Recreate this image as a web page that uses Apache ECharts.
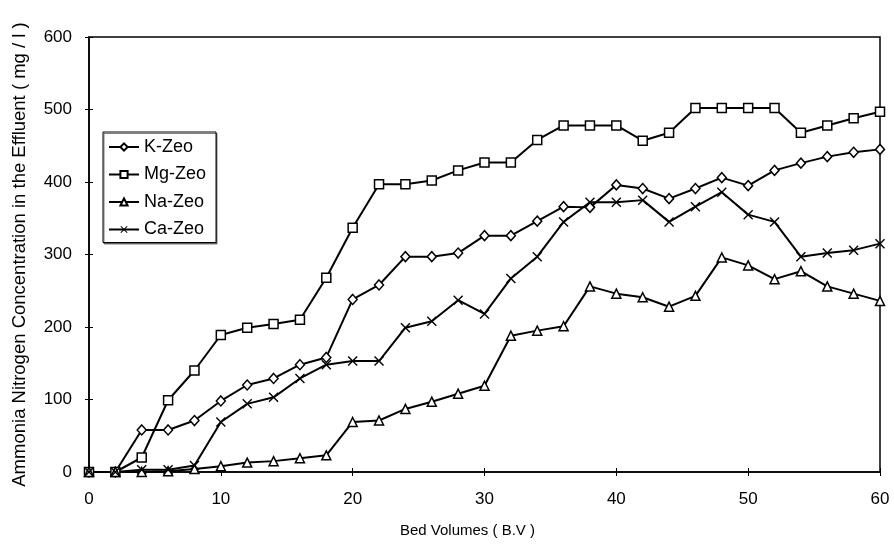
<!DOCTYPE html>
<html>
<head>
<meta charset="utf-8">
<script src="https://cdn.jsdelivr.net/npm/echarts@6/dist/echarts.min.js"></script>
<style>
  html, body { margin: 0; padding: 0; background: #fff; }
  #chart { width: 894px; height: 546px; }
</style>
</head>
<body>
<div id="chart"></div>
<script>
// bed volumes (x)
const bedVolumes = [0, 2, 4, 6, 8, 10, 12, 14, 16, 18, 20, 22, 24, 26, 28, 30,
  32, 34, 36, 38, 40, 42, 44, 46, 48, 50, 52, 54, 56, 58, 60];

const kZeo = [0, 0, 58, 58, 71, 98, 120, 129, 148, 158, 238, 258, 297, 297, 302, 326,
  326, 346, 366, 365, 396, 391, 377, 391, 406, 395, 416, 426, 435, 441, 445];
const mgZeo = [0, 0, 20, 99, 140, 189, 199, 204, 210, 268, 337, 397, 397, 402, 416, 427,
  427, 458, 478, 478, 478, 457, 468, 502, 502, 502, 502, 468, 478, 488, 497];
const naZeo = [0, 0, 0, 1, 4, 8, 13, 15, 19, 23, 69, 71, 87, 97, 108, 119,
  188, 195, 201, 256, 246, 241, 228, 243, 296, 285, 266, 277, 256, 246, 236];
const caZeo = [0, 0, 3, 3, 9, 69, 94, 103, 129, 148, 153, 153, 199, 208, 237, 218,
  267, 297, 345, 372, 372, 375, 345, 366, 386, 355, 345, 297, 302, 306, 315];

const seriesNames = ['K-Zeo', 'Mg-Zeo', 'Na-Zeo', 'Ca-Zeo'];

const FONT = 'Liberation Sans, Arial, sans-serif';
const xSymbol = 'path://M0,1L1,0L5,4L9,0L10,1L6,5L10,9L9,10L5,6L1,10L0,9L4,5Z';

function pairs(ys) {
  return bedVolumes.map((x, i) => [x, ys[i]]);
}

function makeSeries(name, ys, symbol, size, filled) {
  return {
    name: name,
    type: 'line',
    data: pairs(ys),
    symbol: symbol,
    symbolSize: size,
    showAllSymbol: true,
    lineStyle: { color: '#000', width: 2 },
    itemStyle: {
      color: filled ? '#000' : '#fff',
      borderColor: '#000',
      borderWidth: filled ? 0 : 1.5
    },
    emphasis: { disabled: true },
    animation: false
  };
}

const myChart = echarts.init(document.getElementById('chart'));

const option = {
  backgroundColor: '#fff',
  animation: false,
  grid: {
    left: 89, right: 14, top: 37, bottom: 74,
    show: true, borderColor: '#000', borderWidth: 1.5
  },
  legend: {
    orient: 'vertical',
    left: 103, top: 132,
    padding: [6, 10, 4, 5],
    itemGap: 9.5,
    itemWidth: 30, itemHeight: 9,
    borderColor: '#000', borderWidth: 1,
    backgroundColor: '#fff',
    shadowColor: 'rgba(0,0,0,0.5)', shadowOffsetX: 1, shadowOffsetY: 1.5, shadowBlur: 0,
    data: seriesNames,
    textStyle: { fontFamily: FONT, fontSize: 18, color: '#000' }
  },
  xAxis: [{
    type: 'value',
    min: 0, max: 60, interval: 10,
    name: 'Bed Volumes ( B.V )',
    nameLocation: 'middle',
    nameGap: 51,
    nameTextStyle: { fontFamily: FONT, fontSize: 15, color: '#000', padding: [0, 34, 0, 0] },
    axisLine: { lineStyle: { color: '#000', width: 1.5 } },
    axisTick: { length: 4, lineStyle: { color: '#000' } },
    axisLabel: { margin: 19, fontFamily: FONT, fontSize: 17, color: '#000' },
    splitLine: { show: false }
  }, {
    type: 'value',
    position: 'bottom',
    min: 0, max: 60, interval: 10,
    axisLine: { show: false },
    axisTick: { inside: true, length: 4, lineStyle: { color: '#000' } },
    axisLabel: { show: false },
    splitLine: { show: false }
  }],
  yAxis: [{
    type: 'value',
    min: 0, max: 600, interval: 100,
    name: 'Ammonia Nitrogen Concentration in the Effluent ( mg / l )',
    nameLocation: 'middle',
    nameGap: 60,
    nameTextStyle: { fontFamily: FONT, fontSize: 18.5, color: '#000' },
    axisLine: { show: true, lineStyle: { color: '#000', width: 1.5 } },
    axisTick: { show: true, length: 4, lineStyle: { color: '#000' } },
    axisLabel: { margin: 17, fontFamily: FONT, fontSize: 17, color: '#000' },
    splitLine: { show: false }
  }, {
    type: 'value',
    position: 'left',
    min: 0, max: 600, interval: 100,
    axisLine: { show: false },
    axisTick: { show: true, inside: true, length: 4, lineStyle: { color: '#000' } },
    axisLabel: { show: false },
    splitLine: { show: false }
  }],
  series: [
    makeSeries('K-Zeo', kZeo, 'diamond', [9, 10], false),
    makeSeries('Mg-Zeo', mgZeo, 'rect', 9, false),
    makeSeries('Na-Zeo', naZeo, 'triangle', 9, false),
    makeSeries('Ca-Zeo', caZeo, xSymbol, 10, true)
  ]
};

myChart.setOption(option);
</script>
</body>
</html>
